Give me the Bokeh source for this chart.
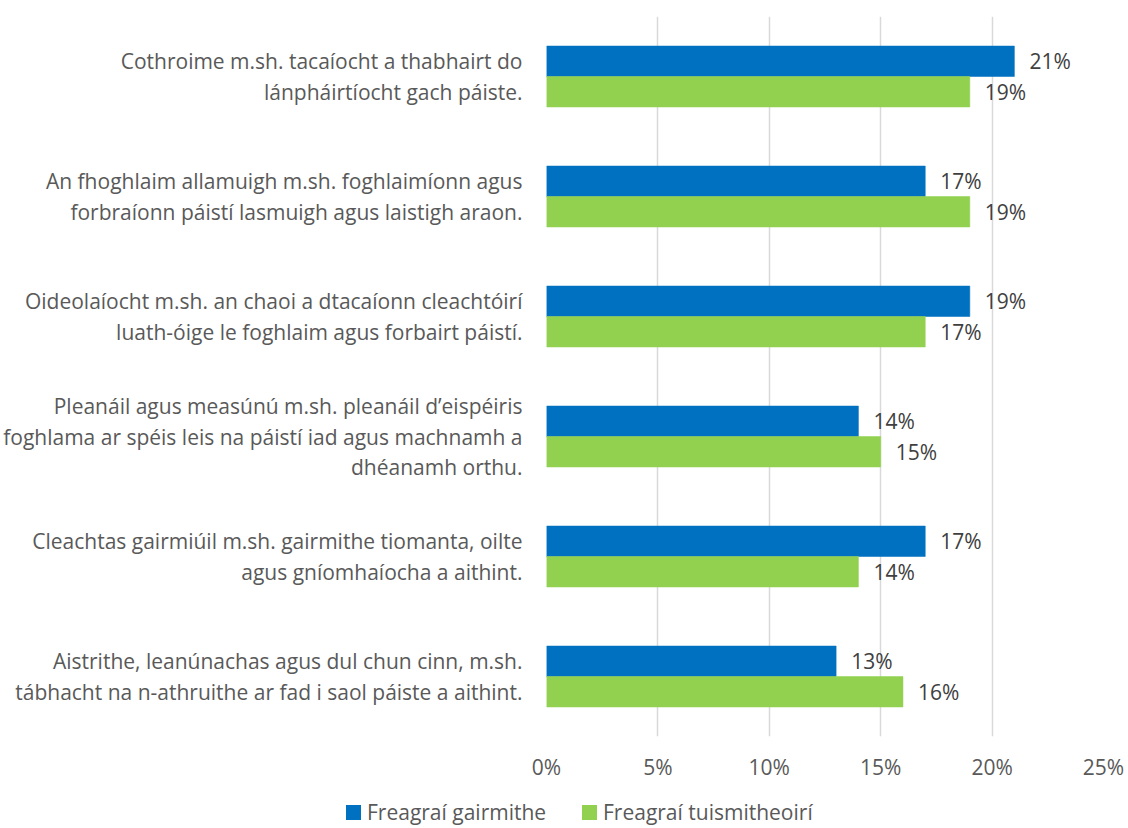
from bokeh.plotting import figure
from bokeh.layouts import column
from bokeh.models import (Range1d, FixedTicker, PrintfTickFormatter,
                          ColumnDataSource, LabelSet, Div)
from bokeh.core.properties import value
from bokeh.embed import file_html
from bokeh.resources import INLINE

categories = [
    "Cothroime m.sh. tacaíocht a thabhairt do\nlánpháirtíocht gach páiste.",
    "An fhoghlaim allamuigh m.sh. foghlaimíonn agus\nforbraíonn páistí lasmuigh agus laistigh araon.",
    "Oideolaíocht m.sh. an chaoi a dtacaíonn cleachtóirí\nluath-óige le foghlaim agus forbairt páistí.",
    "Pleanáil agus measúnú m.sh. pleanáil d’eispéiris\nfoghlama ar spéis leis na páistí iad agus machnamh a\ndhéanamh orthu.",
    "Cleachtas gairmiúil m.sh. gairmithe tiomanta, oilte\nagus gníomhaíocha a aithint.",
    "Aistrithe, leanúnachas agus dul chun cinn, m.sh.\ntábhacht na n-athruithe ar fad i saol páiste a aithint.",
]
series_names = ["Freagraí gairmithe", "Freagraí tuismitheoirí"]
series_colors = ["#0070C0", "#92D050"]
gairmithe = [21, 17, 19, 14, 17, 13]
tuismitheoiri = [19, 19, 17, 15, 14, 16]
x_ticks = [0, 5, 10, 15, 20, 25]

FONT = "Open Sans"
FS = "21px"
n = len(categories)
centers = [n - 1 - i for i in range(n)]
bar_h = 0.254

p = figure(width=1128, height=796, output_backend="svg", toolbar_location=None,
           x_range=Range1d(0, 25), y_range=Range1d(-0.5, n - 0.5),
           min_border_left=546, min_border_right=25, min_border_top=16, min_border_bottom=60)
p.outline_line_color = None

src_b = ColumnDataSource(dict(y=[c + bar_h / 2 for c in centers], v=gairmithe,
                              t=[f"{v}%" for v in gairmithe]))
src_g = ColumnDataSource(dict(y=[c - bar_h / 2 for c in centers], v=tuismitheoiri,
                              t=[f"{v}%" for v in tuismitheoiri]))

p.hbar(y="y", right="v", left=0, height=bar_h, source=src_b,
       fill_color=series_colors[0], line_color=series_colors[0], line_width=0.5)
p.hbar(y="y", right="v", left=0, height=bar_h, source=src_g,
       fill_color=series_colors[1], line_color=series_colors[1], line_width=0.5)

for src in (src_b, src_g):
    p.add_layout(LabelSet(x="v", y="y", text="t", source=src, x_offset=15,
                          text_align="left", text_baseline="middle",
                          text_font=value(FONT), text_font_size=FS, text_color="#404040"))

p.yaxis.ticker = FixedTicker(ticks=centers)
p.yaxis.major_label_overrides = {c: lab for c, lab in zip(centers, categories)}
p.yaxis.axis_line_color = None
p.yaxis.major_tick_line_color = None
p.yaxis.minor_tick_line_color = None
p.yaxis.major_label_standoff = 18
p.yaxis.major_label_text_font = FONT
p.yaxis.major_label_text_font_size = FS
p.yaxis.major_label_text_color = "#595959"
p.yaxis.major_label_text_line_height = 1.1

p.ygrid.grid_line_color = None
p.xgrid.grid_line_color = "#d9d9d9"
p.xgrid.grid_line_width = 1.5
p.xaxis.ticker = FixedTicker(ticks=x_ticks)
p.xaxis.formatter = PrintfTickFormatter(format="%d%%")
p.xaxis.axis_line_color = None
p.xaxis.major_tick_line_color = None
p.xaxis.minor_tick_line_color = None
p.xaxis.major_label_standoff = 10
p.xaxis.major_label_text_font = FONT
p.xaxis.major_label_text_font_size = FS
p.xaxis.major_label_text_color = "#595959"

# legend strip beneath the chart
item_left = [346, 582]
items_html = "".join(
    f'<div style="position:absolute;left:{x}px;top:0;height:32px;display:flex;align-items:center;white-space:nowrap;">'
    f'<span style="display:inline-block;width:15px;height:15px;background:{col};margin-right:6px;"></span>'
    f'<span>{name}</span></div>'
    for x, col, name in zip(item_left, series_colors, series_names))
legend_div = Div(text=f'<div style="position:relative;width:1128px;height:32px;font-family:\'Open Sans\';'
                      f'font-size:21px;color:#595959;">{items_html}</div>',
                 width=1128, height=32, margin=(0, 0, 0, 0))

open("out.html", "w").write(file_html(column(p, legend_div), INLINE))
